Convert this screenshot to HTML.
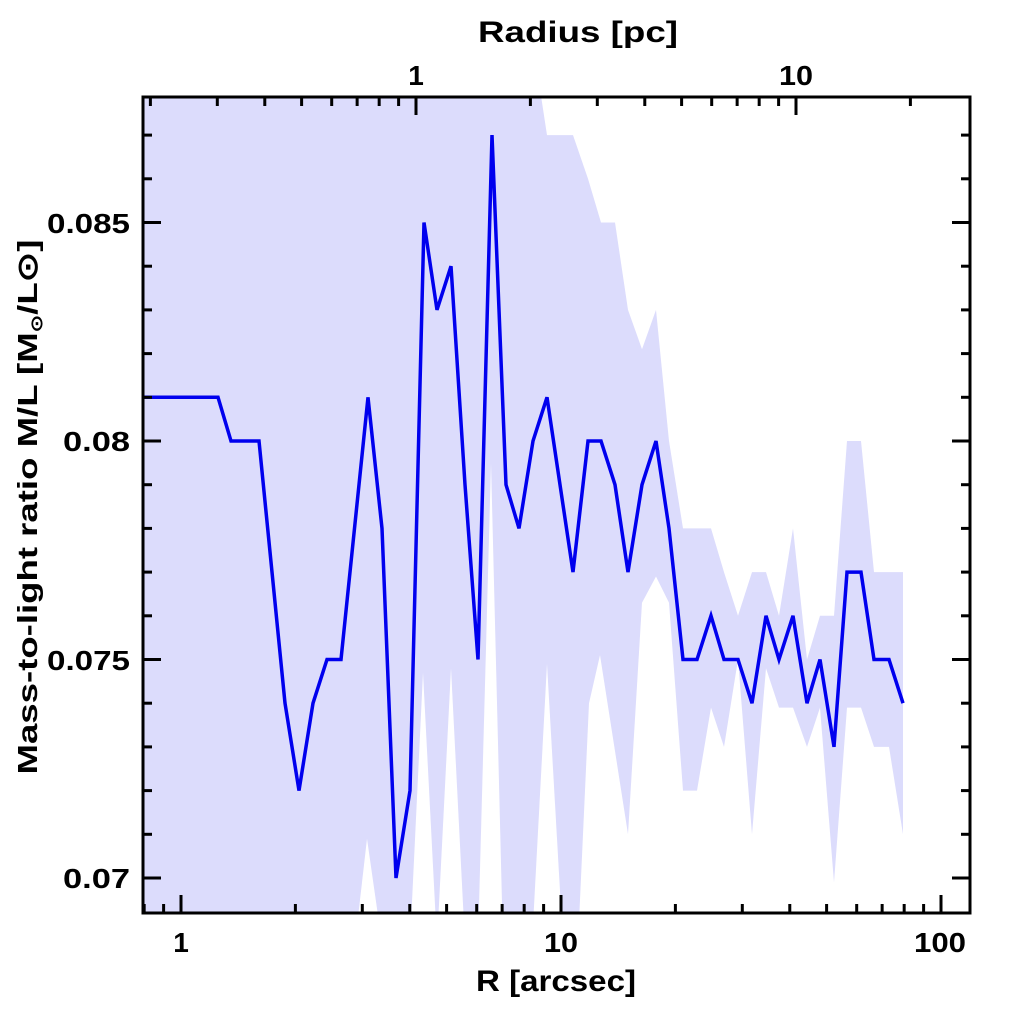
<!DOCTYPE html>
<html><head><meta charset="utf-8"><style>
html,body{margin:0;padding:0;background:#fff;width:1024px;height:1024px;overflow:hidden}
text{font-family:"Liberation Sans",sans-serif;font-weight:bold;fill:#000}
</style></head><body>
<svg id="s" width="1024" height="1024" viewBox="0 0 1024 1024" xmlns="http://www.w3.org/2000/svg">
<defs><clipPath id="c"><rect x="143" y="97" width="827" height="816"/></clipPath></defs>
<g id="band" clip-path="url(#c)"></g>
<g id="line" clip-path="url(#c)"></g>
<g id="ax"></g>
<text x="578" y="42" font-size="30" text-anchor="middle" textLength="200" lengthAdjust="spacingAndGlyphs">Radius [pc]</text>
<text x="416" y="85" font-size="28" text-anchor="middle">1</text>
<text x="796" y="85" font-size="28" text-anchor="middle" textLength="34" lengthAdjust="spacingAndGlyphs">10</text>
<text x="181" y="952" font-size="28" text-anchor="middle">1</text>
<text x="561" y="952" font-size="28" text-anchor="middle" textLength="34" lengthAdjust="spacingAndGlyphs">10</text>
<text x="940" y="952" font-size="28" text-anchor="middle" textLength="52" lengthAdjust="spacingAndGlyphs">100</text>
<text x="556" y="991" font-size="30" text-anchor="middle" textLength="160" lengthAdjust="spacingAndGlyphs">R [arcsec]</text>
<text x="130" y="233" font-size="28" text-anchor="end" textLength="83" lengthAdjust="spacingAndGlyphs">0.085</text>
<text x="130" y="451" font-size="28" text-anchor="end" textLength="67" lengthAdjust="spacingAndGlyphs">0.08</text>
<text x="130" y="670" font-size="28" text-anchor="end" textLength="83" lengthAdjust="spacingAndGlyphs">0.075</text>
<text x="130" y="888" font-size="28" text-anchor="end" textLength="67" lengthAdjust="spacingAndGlyphs">0.07</text>
<text transform="translate(37,507) rotate(-90)" font-size="28" text-anchor="middle" textLength="535" lengthAdjust="spacingAndGlyphs">Mass-to-light ratio M/L [M<tspan font-size="16" dy="5">⊙</tspan><tspan dy="-5">/L⊙]</tspan></text>
</svg>
<script>
function Y(v){return 441-(v-0.080)/0.001*43.7;}
var pts=[[143,.081],[218,.081],[231,.080],[259,.080],[272,.077],[285,.074],[299,.072],[313,.074],[327,.075],[341,.075],[368,.081],[382,.078],[396,.070],[410,.072],[424,.085],[437,.083],[451,.084],[465,.079],[478,.075],[492,.087],[506,.079],[519,.078],[533,.080],[547,.081],[573,.077],[588,.080],[601,.080],[615,.079],[628,.077],[642,.079],[656,.080],[669,.078],[683,.075],[697,.075],[711,.076],[724,.075],[738,.075],[752,.074],[766,.076],[779,.075],[793,.076],[807,.074],[820,.075],[834,.073],[847,.077],[861,.077],[874,.075],[889,.075],[903,.074]];
var up=[[143,.09],[533,.09],[537,.0885],[547,.087],[573,.087],[588,.086],[601,.085],[615,.085],[628,.083],[642,.0821],[656,.083],[669,.080],[683,.078],[711,.078],[724,.077],[738,.076],[752,.077],[766,.077],[779,.076],[793,.078],[807,.075],[820,.076],[834,.076],[847,.080],[861,.080],[874,.077],[903,.077]];
var B=.0685;
var lo=[[143,B],[355,B],[367,.0709],[382,B],[410,B],[423,.0747],[437,B],[451,.0748],[465,B],[478,B],[491,.0795],[503,B],[532,B],[547,.0749],[563,B],[578,B],[589,.074],[600,.0751],[628,.071],[642,.0763],[656,.0769],[669,.0763],[683,.072],[697,.072],[711,.0739],[724,.073],[738,.075],[752,.071],[766,.0748],[779,.0739],[793,.0739],[807,.073],[820,.0739],[834,.0699],[847,.0739],[861,.0739],[874,.073],[889,.073],[903,.071]];
var ns="http://www.w3.org/2000/svg";
function el(n,a,p){var e=document.createElementNS(ns,n);for(var k in a)e.setAttribute(k,a[k]);p.appendChild(e);return e;}
var d=up.map(function(p){return p[0]+","+Y(p[1]).toFixed(1)}).concat(lo.slice().reverse().map(function(p){return p[0]+","+Y(p[1]).toFixed(1)}));
el("polygon",{points:d.join(" "),fill:"#dcdcfc"},document.getElementById("band"));
el("polyline",{points:pts.map(function(p){return p[0]+","+Y(p[1]).toFixed(1)}).join(" "),fill:"none",stroke:"#0000ee","stroke-width":"3.5","stroke-linejoin":"miter"},document.getElementById("line"));
var ax=document.getElementById("ax");
el("rect",{x:143,y:97,width:827,height:816,fill:"none",stroke:"#000","stroke-width":"3"},ax);
function L(x1,y1,x2,y2){el("line",{x1:x1,y1:y1,x2:x2,y2:y2,stroke:"#000","stroke-width":"3"},ax);}
function X(a){return 181+380*Math.log10(a);}
for(var dec=0.1;dec<=100;dec*=10){for(var m=1;m<10;m++){var x=X(dec*m);if(x<144||x>969)continue;var len=m==1?18:9;L(x,913,x,913-len);}}
function XP(pc){return 416+380*Math.log10(pc);}
for(var dec=0.1;dec<=100;dec*=10){for(var m=1;m<10;m++){var x=XP(dec*m);if(x<144||x>969)continue;var len=m==1?18:9;L(x,97,x,97+len);}}
for(var v=0.069;v<=0.0881;v+=0.001){var y=Y(v);if(y<98||y>912)continue;var maj=Math.abs(Math.round(v*1000)%5)==0;var len=maj?18:9;L(143,y,143+len,y);L(970,y,970-len,y);}
</script>
</body></html>
